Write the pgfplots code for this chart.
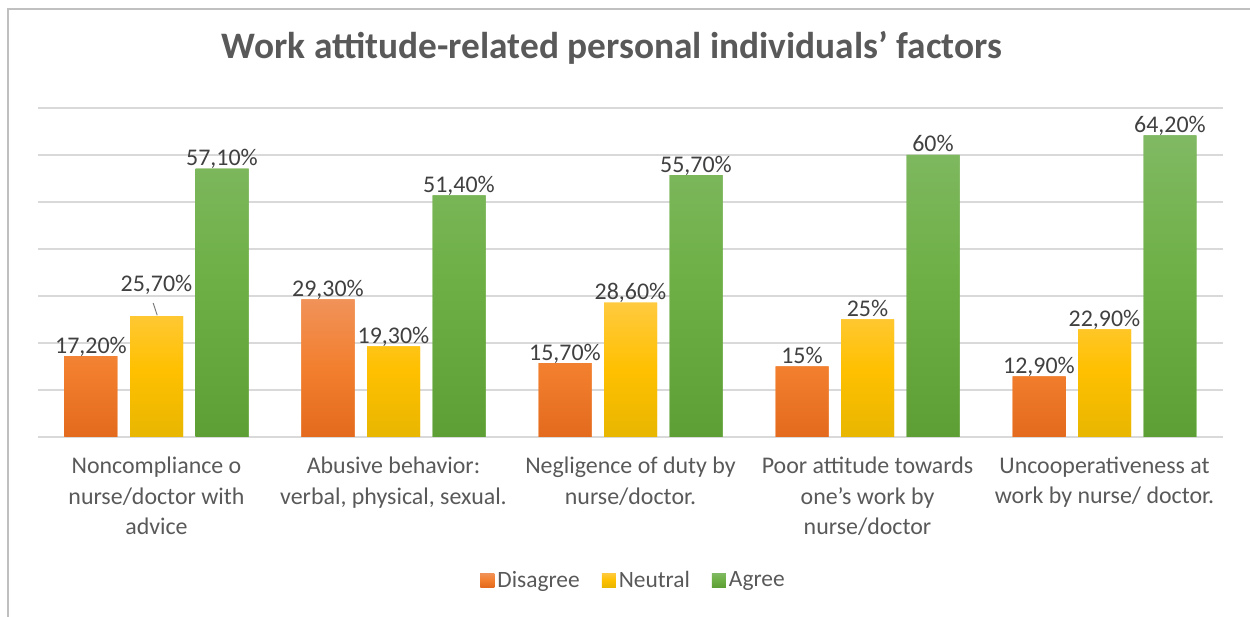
\documentclass[border=0pt]{standalone}
\usepackage{pgfplots}
\pgfplotsset{compat=1.18}
\usepackage{pgfplotstable}
\usepackage{fontspec}
\setmainfont{Carlito}
\definecolor{titlegray}{HTML}{595959}
\definecolor{labgray}{HTML}{404040}
\definecolor{gridgray}{HTML}{D9D9D9}
\definecolor{framegray}{HTML}{C0C0C0}
\definecolor{orT}{HTML}{F19259}
\definecolor{orM}{HTML}{F27F2E}
\definecolor{orB}{HTML}{E36A1E}
\definecolor{yeT}{HTML}{FFCA3F}
\definecolor{yeM}{HTML}{FFC000}
\definecolor{yeB}{HTML}{E8B600}
\definecolor{grT}{HTML}{80B963}
\definecolor{grM}{HTML}{6DAF44}
\definecolor{grB}{HTML}{5D9F35}

\pgfplotstableread{
x y label dy
0 17.2 {17,20\%} 0
1 29.3 {29,30\%} 0
2 15.7 {15,70\%} 0
3 15.0 {15\%} 0
4 12.9 {12,90\%} 0
}\disagree
\pgfplotstableread{
x y label dy
0 25.7 {25,70\%} 22
1 19.3 {19,30\%} 0
2 28.6 {28,60\%} 0
3 25.0 {25\%} 0
4 22.9 {22,90\%} 0
}\neutral
\pgfplotstableread{
x y label dy
0 57.1 {57,10\%} 0
1 51.4 {51,40\%} 0
2 55.7 {55,70\%} 0
3 60.0 {60\%} 0
4 64.2 {64,20\%} 0
}\agree

\begin{document}
\begin{tikzpicture}[x=1bp,y=1bp]
\begin{axis}[
  at={(0,0)}, anchor=south west,
  scale only axis, width=1185bp, height=329bp,
  xmin=-0.5, xmax=4.5, ymin=0, ymax=70,
  ybar=12.5bp, bar width=53bp,
  axis line style={draw=none},
  major tick length=0pt,
  ytick={0,10,...,70}, yticklabels={},
  ymajorgrids, grid style={gridgray, line width=1.4bp},
  xtick={0,1,2,3,4},
  xticklabels={{Noncompliance o\\nurse/doctor with\\advice},{Abusive behavior:\\verbal, physical, sexual.},{Negligence of duty by\\nurse/doctor.},{Poor attitude towards\\one’s work by\\nurse/doctor},{Uncooperativeness at\\work by nurse/ doctor.}},
  x tick label style={align=center, text=titlegray, font=\fontsize{24}{31}\selectfont, yshift=-16bp},
  point meta=explicit symbolic,
  nodes near coords,
  visualization depends on={\thisrow{dy} \as \dy},
  every node near coord/.append style={text=labgray, font=\fontsize{24}{28}\selectfont, anchor=base, inner sep=0pt, yshift=3bp+\dy bp},
  legend style={at={(0.503,-0.435)}, anchor=center, draw=none, fill=none, legend columns=3,
    font=\fontsize{23.5}{26}\selectfont, text=titlegray,
    nodes={inner sep=3bp},
    /tikz/every even column/.append style={column sep=19bp}},
  legend image code/.code={\fill[#1] (0bp,-7bp) rectangle (14bp,7bp);},
  legend cell align=left,
]
\addplot[draw=none, fill=orM, top color=orT, bottom color=orB, middle color=orM] table[x=x,y=y,meta=label] {\disagree};
\addlegendentry{Disagree}
\addplot[draw=none, fill=yeM, top color=yeT, bottom color=yeB, middle color=yeM] table[x=x,y=y,meta=label] {\neutral};
\addlegendentry{Neutral}
\addplot[draw=none, fill=grM, top color=grT, bottom color=grB, middle color=grM] table[x=x,y=y,meta=label] {\agree};
\addlegendentry{Agree}
\draw[gray, line width=1bp] (axis cs:-0.014,28.5) -- (axis cs:0.003,25.9);
\end{axis}
\path[use as bounding box] (-38,-180) rectangle (1212,437);
\draw[framegray, line width=2bp] (-30,-181) -- (-30,428) -- (1213,428);
\node[text=titlegray, font=\fontsize{37.5}{42}\selectfont\bfseries] at (574,389) {Work attitude-related personal individuals’ factors};
\end{tikzpicture}
\end{document}
